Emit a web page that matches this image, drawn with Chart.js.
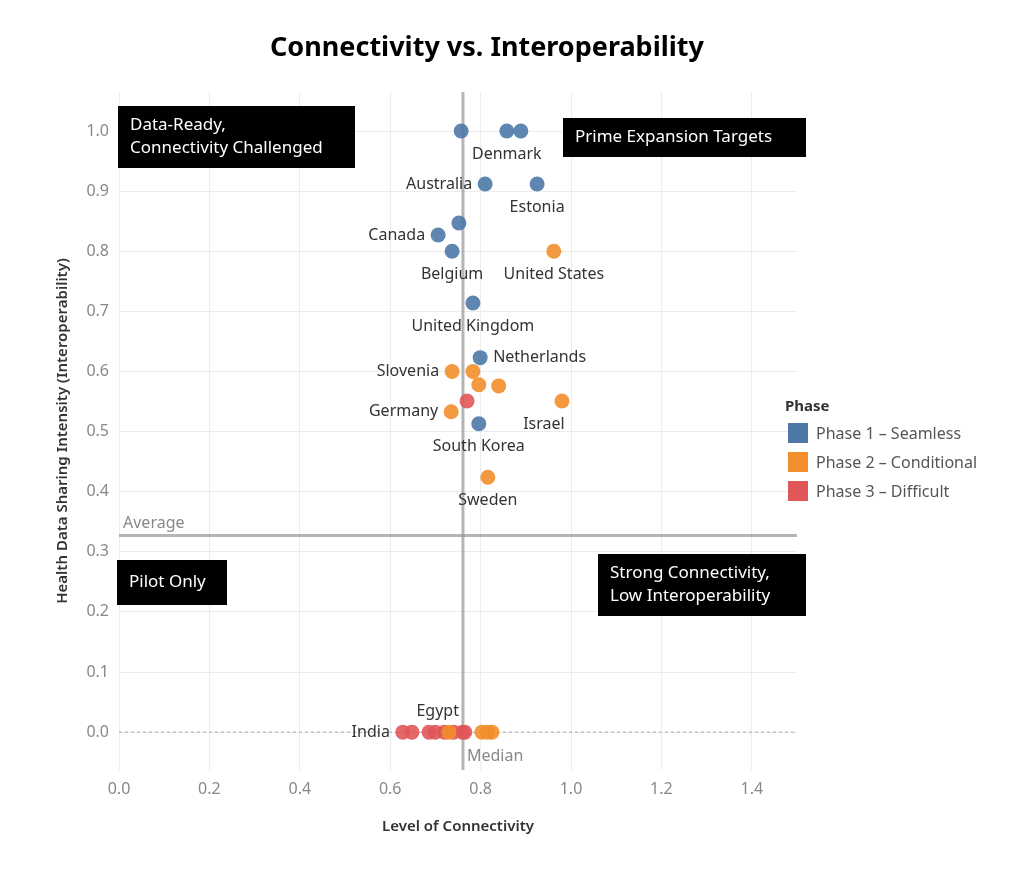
<!DOCTYPE html>
<html><head><meta charset="utf-8">
<script src="https://cdn.jsdelivr.net/npm/chart.js@4"></script>
<style>html,body{margin:0;padding:0;background:#fff}</style>
</head><body>
<canvas id="c" width="1024" height="885" style="width:1024px;height:885px"></canvas>
<script>
const FONT = '"Noto Sans", "Open Sans", sans-serif';
const xTicks = [0.0,0.2,0.4,0.6,0.8,1.0,1.2,1.4];
const yTicks = [0.0,0.1,0.2,0.3,0.4,0.5,0.6,0.7,0.8,0.9,1.0];
const phase1X = [0.757,0.858,0.889,0.81,0.925,0.752,0.706,0.737,0.783,0.799,0.796];
const phase1Y = [1.0,1.0,1.0,0.912,0.912,0.847,0.827,0.80,0.714,0.623,0.513];
const phase2X = [0.962,0.737,0.783,0.796,0.84,0.98,0.735,0.816,0.73,0.803,0.815,0.825];
const phase2Y = [0.80,0.60,0.60,0.578,0.576,0.551,0.533,0.424,0,0,0,0];
const phase3X = [0.77,0.628,0.648,0.686,0.70,0.72,0.74,0.76,0.765];
const phase3Y = [0.551,0,0,0,0,0,0,0,0];
const medianX = 0.761, averageY = 0.327;
const labelNames = ['Denmark','Australia','Estonia','Canada','Belgium','United States','United Kingdom','Netherlands','Slovenia','Germany','Israel','South Korea','Sweden','India','Egypt'];
const labelX = [0.858,0.81,0.925,0.706,0.737,0.962,0.783,0.799,0.737,0.735,0.94,0.796,0.816,0.628,0.705];
const labelY = [1.0,0.912,0.912,0.827,0.80,0.80,0.714,0.623,0.60,0.533,0.551,0.513,0.424,0,0];
const labelPos = ['below','left','below','left','below','below','below','right','left','left','below','below','below','left','above'];
const colors = ['#4e79a7','#f28e2b','#e15759'];
const names = ['Phase 1 – Seamless','Phase 2 – Conditional','Phase 3 – Difficult'];
const pts = (xs,ys)=>xs.map((x,i)=>({x,y:ys[i]}));

const deco = {
  id:'deco',
  beforeDatasetsDraw(ch){
    const c=ch.ctx, a=ch.chartArea, xs=ch.scales.x, ys=ch.scales.y;
    c.save();
    c.setLineDash([3,3]); c.strokeStyle='#aaa'; c.lineWidth=1;
    c.beginPath(); c.moveTo(a.left,ys.getPixelForValue(0)); c.lineTo(a.right,ys.getPixelForValue(0)); c.stroke();
    c.setLineDash([]);
    c.strokeStyle='rgba(150,150,150,0.7)'; c.lineWidth=3;
    const mx=xs.getPixelForValue(medianX), ay=ys.getPixelForValue(averageY);
    c.beginPath(); c.moveTo(mx,a.top); c.lineTo(mx,a.bottom); c.stroke();
    c.beginPath(); c.moveTo(a.left,ay); c.lineTo(a.right,ay); c.stroke();
    c.fillStyle='#888'; c.font='16px '+FONT; c.textBaseline='bottom'; c.textAlign='left';
    c.fillText('Average',a.left+4,ay-4);
    c.textBaseline='top'; c.fillText('Median',mx+4,a.bottom-22);
    c.restore();
  },
  afterDatasetsDraw(ch){
    const c=ch.ctx, a=ch.chartArea, xs=ch.scales.x, ys=ch.scales.y;
    c.save();
    c.font='16px '+FONT; c.fillStyle='#333';
    labelNames.forEach((n,i)=>{
      const px=xs.getPixelForValue(labelX[i]), py=ys.getPixelForValue(labelY[i]);
      const p=labelPos[i];
      if(p==='below'){c.textAlign='center';c.textBaseline='middle';c.fillText(n,px,py+23);}
      else if(p==='above'){c.textAlign='center';c.textBaseline='middle';c.fillText(n,px,py-21);}
      else if(p==='left'){c.textAlign='right';c.textBaseline='middle';c.fillText(n,px-13,py);}
      else {c.textAlign='left';c.textBaseline='middle';c.fillText(n,px+13,py);}
    });
    // quadrant boxes
    const boxes=[
      [a.left-1,106,237,62,['Data-Ready,','Connectivity Challenged']],
      [563,118,243,39,['Prime Expansion Targets']],
      [117,560,110,45,['Pilot Only']],
      [598,554,208,62,['Strong Connectivity,','Low Interoperability']]
    ];
    c.font='17px '+FONT;
    boxes.forEach(b=>{
      c.fillStyle='#000'; c.fillRect(b[0],b[1],b[2],b[3]);
      c.fillStyle='#fff'; c.textAlign='left'; c.textBaseline='middle';
      const n=b[4].length;
      b[4].forEach((t,k)=>c.fillText(t,b[0]+12,b[1]+b[3]/2+(k-(n-1)/2)*23));
    });
    // title
    c.fillStyle='#000'; c.font='bold 27px '+FONT; c.textAlign='center'; c.textBaseline='middle';
    c.fillText('Connectivity vs. Interoperability',487,48);
    // legend
    c.textAlign='left'; c.font='bold 15px '+FONT; c.fillStyle='#333';
    c.fillText('Phase',785,407);
    c.font='16px '+FONT;
    names.forEach((n,i)=>{
      const y=433+i*29;
      c.fillStyle=colors[i]; c.fillRect(788,y-10,20,20);
      c.fillStyle='#555'; c.fillText(n,816,y+1);
    });
    c.restore();
  }
};

new Chart(document.getElementById('c'),{
  type:'scatter',
  data:{datasets:[phase1X,phase2X,phase3X].map((xs,i)=>({
    label:names[i], data:pts(xs,[phase1Y,phase2Y,phase3Y][i]),
    backgroundColor:colors[i]+'e6', borderWidth:0, pointRadius:7.5, pointHoverRadius:7.5
  }))},
  options:{
    responsive:false, animation:false, devicePixelRatio:1,
    layout:{padding:{left:50,right:227,top:92,bottom:45}},
    plugins:{legend:{display:false},tooltip:{enabled:false}},
    scales:{
      x:{type:'linear',min:0,max:1.5,
        afterBuildTicks:s=>{s.ticks=xTicks.map(v=>({value:v}));},
        afterFit:s=>{s.height=70;},
        grid:{color:'#ececec',drawTicks:false}, border:{display:false},
        ticks:{padding:10,color:'#888',font:{family:FONT,size:16},callback:v=>v.toFixed(1)},
        title:{display:true,text:'Level of Connectivity',color:'#333',font:{family:FONT,size:15,weight:'600'}}},
      y:{type:'linear',min:-0.063,max:1.065,
        afterBuildTicks:s=>{s.ticks=yTicks.map(v=>({value:v}));},
        afterFit:s=>{s.width=69;},
        grid:{color:'#ececec',drawTicks:false}, border:{display:false},
        ticks:{padding:10,color:'#888',font:{family:FONT,size:16},callback:v=>v.toFixed(1)},
        title:{display:true,text:'Health Data Sharing Intensity (Interoperability)',color:'#333',font:{family:FONT,size:15,weight:'600'}}}
    }
  },
  plugins:[deco]
});
</script>
</body></html>
